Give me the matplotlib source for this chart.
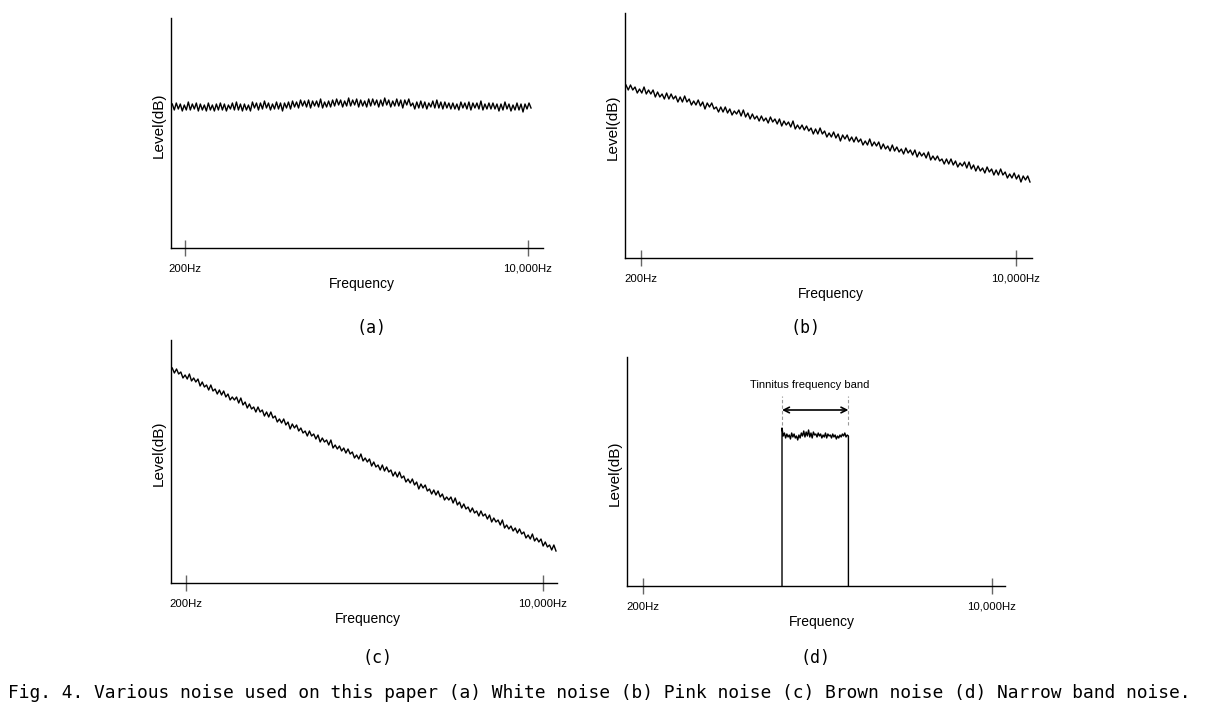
import numpy as np
import matplotlib
matplotlib.use("Agg")
import matplotlib.pyplot as plt

plt.rcParams.update({"font.family": ["Liberation Sans", "DejaVu Sans"]})

W, H = 1205, 722

tick_freqs = [200, 10000]
tick_labels = ["200Hz", "10,000Hz"]

# level traces (height above the frequency axis, px-like units)
white_db = [144, 138, 145, 139, 144, 137, 143, 138, 146, 138, 144, 139, 145, 137, 144, 138, 143, 137, 145, 138,
            143, 137, 144, 138, 145, 138, 144, 137, 143, 139, 145, 138, 146, 138, 144, 137, 144, 138, 143, 137,
            146, 140, 145, 138, 145, 139, 147, 140, 145, 138, 144, 139, 146, 139, 145, 137, 145, 140, 146, 139,
            147, 141, 146, 140, 148, 142, 147, 141, 148, 140, 147, 142, 147, 141, 149, 140, 146, 141, 147, 141,
            148, 142, 149, 143, 148, 141, 147, 142, 150, 142, 148, 143, 149, 141, 148, 142, 147, 141, 149, 142,
            149, 143, 148, 141, 148, 142, 150, 143, 148, 141, 147, 142, 149, 142, 148, 140, 148, 143, 149, 142,
            145, 139, 146, 140, 147, 140, 146, 139, 145, 141, 147, 140, 148, 140, 146, 139, 146, 140, 145, 139,
            145, 139, 144, 138, 146, 140, 145, 139, 146, 138, 145, 140, 145, 139, 147, 138, 144, 139, 145, 139,
            145, 139, 144, 137, 144, 138, 146, 139, 144, 137, 143, 138, 145, 138, 144, 136, 144, 139, 145, 140]
pink_db = [173, 168, 173, 168, 171, 165, 169, 165, 171, 164, 168, 164, 168, 161, 166, 161, 164, 159, 165, 159,
           164, 159, 162, 156, 161, 156, 162, 156, 159, 153, 157, 153, 158, 152, 156, 149, 155, 151, 155, 149,
           151, 146, 151, 146, 151, 145, 149, 143, 147, 144, 148, 142, 148, 141, 145, 139, 144, 139, 142, 137,
           142, 137, 140, 135, 141, 136, 139, 134, 139, 132, 137, 133, 136, 131, 137, 129, 133, 129, 133, 128,
           132, 127, 130, 124, 129, 124, 130, 124, 127, 121, 125, 121, 126, 120, 124, 117, 123, 119, 123, 117,
           121, 116, 121, 116, 119, 113, 117, 113, 119, 112, 116, 112, 116, 109, 114, 109, 112, 107, 113, 107,
           111, 106, 109, 104, 110, 105, 108, 103, 108, 101, 106, 102, 105, 100, 106, 98, 102, 98, 102, 97,
           99, 94, 99, 94, 99, 93, 97, 91, 95, 92, 96, 90, 96, 89, 93, 87, 92, 87, 90, 85,
           91, 86, 89, 83, 88, 83, 89, 83, 86, 80, 84, 80, 85, 79, 83, 76, 82, 78, 82, 76]
brown_db = [215, 210, 214, 209, 211, 205, 208, 204, 209, 202, 205, 201, 204, 197, 201, 196, 198, 193, 198, 192,
            194, 189, 193, 188, 192, 186, 189, 183, 186, 183, 186, 180, 185, 178, 181, 175, 179, 174, 176, 171,
            176, 171, 173, 167, 171, 166, 171, 165, 167, 161, 164, 160, 164, 158, 161, 154, 159, 155, 158, 152,
            155, 150, 152, 147, 152, 147, 149, 144, 148, 141, 145, 141, 143, 138, 143, 135, 138, 134, 137, 132,
            135, 130, 134, 129, 131, 125, 128, 124, 129, 122, 125, 121, 124, 117, 121, 116, 118, 113, 118, 112,
            116, 111, 113, 107, 111, 106, 111, 105, 107, 101, 104, 100, 104, 98, 101, 94, 99, 95, 98, 92,
            94, 89, 93, 88, 92, 86, 89, 83, 86, 83, 86, 80, 85, 78, 81, 75, 79, 74, 76, 71,
            75, 70, 72, 67, 72, 67, 69, 64, 68, 61, 65, 61, 63, 58, 63, 55, 58, 54, 57, 52,
            55, 50, 54, 49, 51, 45, 48, 44, 49, 42, 45, 41, 44, 37, 41, 36, 38, 33, 38, 32]
band_db = [158, 150, 153, 148, 152, 149, 151, 147, 153, 149, 152, 148, 150, 146, 151, 148, 153, 150, 155, 149,
           154, 150, 156, 149, 153, 148, 154, 151, 152, 149, 153, 150, 152, 148, 151, 149, 153, 148, 152, 150,
           151, 148, 152, 149, 151, 147, 150, 148, 151, 149, 152, 150, 153, 149, 151, 150]

white_span = (173, 10350)
pink_span = (171, 11570)
brown_span = (172, 11530)
band_span = (950, 2000)

# axes boxes in image pixels: left, bottom (x-axis), right, top; tick pixel x's
panels = {
    "a": dict(box=(171, 248, 543, 18), ticks=(185, 528), ylab=125, xlab=362),
    "b": dict(box=(625, 258, 1032, 13), ticks=(641, 1016), ylab=127, xlab=831),
    "c": dict(box=(171, 583, 557, 340), ticks=(186, 543), ylab=453, xlab=368),
    "d": dict(box=(627, 586, 1005, 357), ticks=(643, 992), ylab=473, xlab=822),
}

fig = plt.figure(figsize=(W / 100, H / 100), dpi=100)


def make_axes(p):
    l, b, r, t = p["box"]
    t1, t2 = p["ticks"]
    ax = fig.add_axes([l / W, 1 - b / H, (r - l) / W, (b - t) / H])
    dec = (np.log10(tick_freqs[1]) - np.log10(tick_freqs[0])) / (t2 - t1)
    ax.set_xscale("log")
    ax.set_xlim(10 ** (np.log10(tick_freqs[0]) - (t1 - l) * dec),
                10 ** (np.log10(tick_freqs[1]) + (r - t2) * dec))
    ax.set_ylim(0, b - t)
    for s in ("top", "right"):
        ax.spines[s].set_visible(False)
    for s in ("left", "bottom"):
        ax.spines[s].set_linewidth(1.0)
    ax.set_yticks([])
    ax.xaxis.set_minor_locator(matplotlib.ticker.NullLocator())
    ax.set_xticks(tick_freqs)
    ax.set_xticklabels(tick_labels)
    ax.tick_params(axis="x", direction="inout", length=11, width=1.0,
                   color="#666666", labelsize=8.2, pad=6)
    ax.set_xlabel("Frequency", fontsize=10, labelpad=2,
                  x=(p["xlab"] - l) / (r - l))
    ax.set_ylabel("Level(dB)", fontsize=11, labelpad=4,
                  y=(b - p["ylab"]) / (b - t))
    return ax


axes = {k: make_axes(p) for k, p in panels.items()}

for key, vals, span in [("a", white_db, white_span), ("b", pink_db, pink_span),
                        ("c", brown_db, brown_span)]:
    f = np.geomspace(span[0], span[1], len(vals))
    axes[key].plot(f, vals, color="k", lw=1.0)

axd = axes["d"]
fb = np.geomspace(band_span[0], band_span[1], len(band_db))
axd.plot(np.r_[band_span[0], fb, band_span[1]], np.r_[0, band_db, 0],
         color="k", lw=1.0)
for fx in band_span:
    axd.plot([fx, fx], [161, 190], color="#999999", lw=0.8, ls=(0, (3, 2)))
axd.annotate("", xy=(band_span[1], 176), xytext=(band_span[0], 176),
             arrowprops=dict(arrowstyle="<->", lw=1.2, color="k",
                             shrinkA=0, shrinkB=0))
axd.text(1290, 201, "Tinnitus frequency band", fontsize=8.0,
         ha="center", va="center")

mono = ["DejaVu Sans Mono", "Liberation Mono"]
for lab, x, y in [("(a)", 371, 328), ("(b)", 806, 328),
                  ("(c)", 378, 658), ("(d)", 815, 658)]:
    fig.text(x / W, 1 - y / H, lab, fontsize=12, ha="center", va="center",
             family=mono)

fig.text(8 / W, 1 - 693 / H,
         "Fig. 4. Various noise used on this paper (a) White noise (b) Pink noise "
         "(c) Brown noise (d) Narrow band noise.",
         fontsize=12.9, ha="left", va="center", family=mono)

fig.savefig("out.png", dpi=100)
